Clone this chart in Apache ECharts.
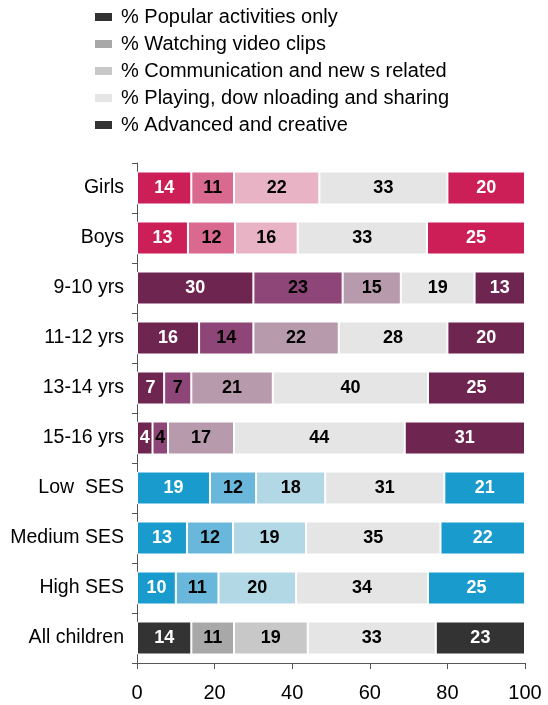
<!DOCTYPE html>
<html>
<head>
<meta charset="utf-8">
<script src="https://cdn.jsdelivr.net/npm/echarts@6/dist/echarts.min.js"></script>
<style>
  html, body { margin: 0; padding: 0; background: #fff; }
  #mapChart { width: 548px; height: 705px; }
</style>
</head>
<body>
<div id="mapChart"></div>
<script>
var rows = ['Girls', 'Boys', '9-10 yrs', '11-12 yrs', '13-14 yrs', '15-16 yrs',
    'Low  SES', 'Medium SES', 'High SES', 'All children'];
// which colour group each row belongs to: 0 gender, 1 age, 2 SES, 3 all
var rowGroup = [0, 0, 1, 1, 1, 1, 2, 2, 2, 3];

var activityNames = [
    '% Popular activities only',
    '% Watching video clips',
    '% Communication and new s related',
    '% Playing, dow nloading and sharing',
    '% Advanced and creative'
];

var popular = [14, 13, 30, 16, 7, 4, 19, 13, 10, 14];
var video = [11, 12, 23, 14, 7, 4, 12, 12, 11, 11];
var communication = [22, 16, 15, 22, 21, 17, 18, 19, 20, 19];
var playing = [33, 33, 19, 28, 40, 44, 31, 35, 34, 33];
var advanced = [20, 25, 13, 20, 25, 31, 21, 22, 25, 23];

var xTicks = [0, 20, 40, 60, 80, 100];

(function() {
    var myChart = echarts.init(document.getElementById('mapChart'));
    var FONT = '"Liberation Sans", Arial, sans-serif';

    var values = [popular, video, communication, playing, advanced];

    // colours per group, one entry per activity
    var palette = [
        ['#cc1f58', '#d9698f', '#e8b4c5', '#e5e5e5', '#cc1f58'],
        ['#6e2550', '#8d4677', '#b79aac', '#e5e5e5', '#6e2550'],
        ['#199bce', '#69b8db', '#b3d8e5', '#e5e5e5', '#199bce'],
        ['#333333', '#a8a8a8', '#c8c8c8', '#e5e5e5', '#333333']
    ];
    var labelColors = ['#fff', '#000', '#000', '#000', '#fff'];

    // 100% stacked: every row is scaled to its own total
    var totals = rows.map(function(r, i) {
        var s = 0;
        values.forEach(function(v) { s += v[i]; });
        return s;
    });

    var series = values.map(function(vals, k) {
        return {
            name: activityNames[k],
            type: 'bar',
            stack: 'all',
            barWidth: 33,
            itemStyle: {
                color: palette[3][k],
                borderColor: '#fff',
                borderWidth: 1
            },
            label: {
                show: true,
                position: 'inside',
                color: labelColors[k],
                fontFamily: FONT,
                fontWeight: 'bold',
                fontSize: 18,
                formatter: function(p) { return vals[p.dataIndex]; }
            },
            data: vals.map(function(v, i) {
                return {
                    value: v / totals[i] * 100,
                    itemStyle: { color: palette[rowGroup[i]][k] }
                };
            })
        };
    });

    var option = {
        animation: false,
        legend: {
            orient: 'vertical',
            left: 93,
            top: 7,
            padding: 0,
            icon: 'rect',
            itemWidth: 19,
            itemHeight: 10,
            itemGap: 7,
            selectedMode: false,
            textStyle: {
                fontFamily: FONT,
                fontSize: 20,
                lineHeight: 20,
                color: '#000',
                padding: [0, 0, 0, 3]
            },
            data: activityNames
        },
        grid: {
            left: 137,
            right: 23,
            top: 163,
            bottom: 42
        },
        xAxis: {
            type: 'value',
            min: xTicks[0],
            max: xTicks[xTicks.length - 1],
            interval: 20,
            splitLine: { show: false },
            axisLine: { show: true, lineStyle: { color: '#555', width: 1 } },
            axisTick: { show: true, length: 6, lineStyle: { color: '#555' } },
            axisLabel: {
                margin: 20,
                fontFamily: FONT,
                fontSize: 20,
                color: '#000'
            }
        },
        yAxis: {
            type: 'category',
            inverse: true,
            data: rows,
            axisLine: { show: true, lineStyle: { color: '#555', width: 1 } },
            axisTick: { show: true, length: 5, lineStyle: { color: '#555' } },
            axisLabel: {
                margin: 13,
                fontFamily: FONT,
                fontSize: 19.5,
                color: '#000'
            }
        },
        series: series
    };

    myChart.setOption(option);
})();
</script>
</body>
</html>
